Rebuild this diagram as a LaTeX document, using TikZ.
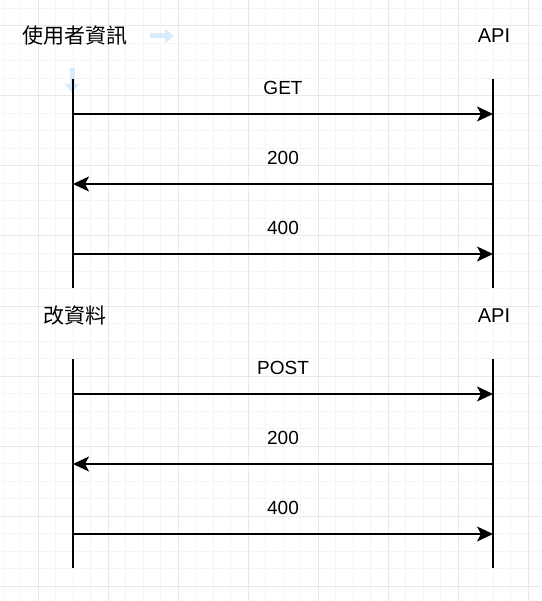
\documentclass[tikz,border=0pt]{standalone}
\usepackage{fontspec}
\setmainfont{Liberation Sans}
\newfontfamily\cjk{Noto Sans CJK TC}
\usetikzlibrary{arrows.meta,positioning}
\definecolor{gridminor}{RGB}{245,245,245}
\definecolor{gridmajor}{RGB}{232,232,232}
\definecolor{hoverblue}{RGB}{215,235,250}

\begin{document}
\begin{tikzpicture}[x=1pt,y=-1pt,>={Stealth[length=16pt,width=15pt,inset=4pt]},
  msg/.style={->,line width=1.6pt},
  life/.style={line width=1.6pt},
  actor/.style={font=\fontsize{20}{24}\selectfont,inner sep=0pt},
  cjkactor/.style={actor,font=\fontsize{21}{25}\selectfont\cjk},
  lbl/.style={font=\fontsize{19}{22}\selectfont,text height=14pt,text depth=0pt,inner sep=0pt,above=19pt},
  hover/.style={draw=hoverblue,line width=5pt,-{Triangle[length=9pt,width=14pt]}}]
  \useasboundingbox (0,0) rectangle (541,601);
  % grid
  \foreach \gx in {3.3,20.8,...,541} \draw[gridminor,line width=1pt] (\gx,0) -- (\gx,601);
  \foreach \gy in {8.5,26,...,601} \draw[gridminor,line width=1pt] (0,\gy) -- (541,\gy);
  \foreach \gx in {38.3,108.3,...,541} \draw[gridmajor,line width=1pt] (\gx,0) -- (\gx,601);
  \foreach \gy in {26,96,...,601} \draw[gridmajor,line width=1pt] (0,\gy) -- (541,\gy);

  \node[cjkactor] (user) at (74.5,36) {使用者資訊};
  \node[actor] (api1) at (494,36) {API};
  \node[cjkactor] (edit) at (74.5,316) {改資料};
  \node[actor] (api2) at (494,316) {API};

  \draw[hover] (150,36) -- (174,36);
  \draw[hover] (72,68) -- (72,93);

  \coordinate (uTop1) at (73,79);  \coordinate (uBot1) at (73,288);
  \coordinate (aTop1) at (493,79); \coordinate (aBot1) at (493,288);
  \coordinate (uTop2) at (73,359);  \coordinate (uBot2) at (73,568);
  \coordinate (aTop2) at (493,359); \coordinate (aBot2) at (493,568);
  \draw[life] (uTop1) -- (uBot1) (aTop1) -- (aBot1);
  \draw[life] (uTop2) -- (uBot2) (aTop2) -- (aBot2);

  \foreach \y/\n in {114/1,184/2,254/3,394/4,464/5,534/6}{
    \coordinate (u\n) at (73,\y);
    \coordinate (a\n) at (493,\y);
  }
  \path[msg]
  (u1) edge node[lbl]{GET} (a1)
  (a2) edge node[lbl]{200} (u2)
  (u3) edge node[lbl]{400} (a3)
  (u4) edge node[lbl]{POST} (a4)
  (a5) edge node[lbl]{200} (u5)
  (u6) edge node[lbl]{400} (a6)
  ;
\end{tikzpicture}
\end{document}
